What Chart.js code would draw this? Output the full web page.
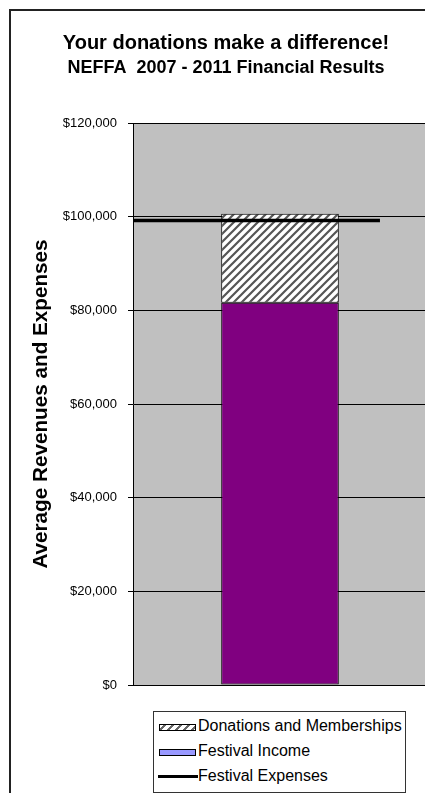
<!DOCTYPE html>
<html>
<head>
<meta charset="utf-8">
<script src="https://cdn.jsdelivr.net/npm/chart.js@4.4.0/dist/chart.umd.min.js"></script>
<style>
  html, body { margin: 0; padding: 0; background: #fff; overflow: hidden; }
  body { width: 425px; height: 793px; position: relative; font-family: 'Liberation Sans', Arial, sans-serif; }
  #frame { position: absolute; left: 9px; top: 9px; width: 520px; height: 820px; border-left: 2px solid #222; border-top: 2px solid #222; }
  #chart { position: absolute; left: 0; top: 0; }
  .title { position: absolute; left: 0; width: 452px; text-align: center; font-weight: bold; line-height: 1; color: #000; white-space: nowrap; }
  #legend { position: absolute; left: 153px; top: 711px; width: 253px; height: 82px; box-sizing: border-box; border: 1px solid #333; background: #fff; }
  .row { position: absolute; left: 44px; font-size: 16px; line-height: 1; white-space: nowrap; color: #000; }
  .sw { position: absolute; left: 5px; width: 37px; height: 7px; box-sizing: border-box; border: 1px solid #000; }
  .hatch { background: repeating-linear-gradient(135deg, #fff 0 2.5px, #666 2.5px 4.5px, #fff 4.5px 5.6px); }
  .income { background: #9999ff; }
  .ln { position: absolute; left: 4px; width: 40px; height: 3px; background: #000; }
</style>
</head>
<body>
<div id="frame"></div>
<canvas id="chart" width="450" height="793"></canvas>
<div class="title" style="top:32px;font-size:20px;">Your donations make a difference!</div>
<div class="title" style="top:58px;font-size:18px;">NEFFA&nbsp; 2007 - 2011 Financial Results</div>
<div id="legend">
  <div class="sw hatch" style="top:12px;"></div>
  <div class="row" style="top:6px;">Donations and Memberships</div>
  <div class="sw income" style="top:37px;"></div>
  <div class="row" style="top:31px;">Festival Income</div>
  <div class="ln" style="top:63px;"></div>
  <div class="row" style="top:56px;">Festival Expenses</div>
</div>
<script>
// data
var categories = [''];
var festivalIncome = [81600];
var donations = [19000];
var festivalExpenses = [99200, 99200];
var expenseSpan = [0, 0.84];
var yTickLabels = ['$0', '$20,000', '$40,000', '$60,000', '$80,000', '$100,000', '$120,000'];

// diagonal hatch for the donations block
function hatchPattern(ctx) {
  var tile = document.createElement('canvas');
  tile.width = 8;
  tile.height = 8;
  var t = tile.getContext('2d');
  t.fillStyle = '#fff';
  t.fillRect(0, 0, 8, 8);
  t.strokeStyle = '#555';
  t.lineWidth = 2.2;
  t.beginPath();
  t.moveTo(0, 8); t.lineTo(8, 0);
  t.moveTo(-4, 4); t.lineTo(4, -4);
  t.moveTo(4, 12); t.lineTo(12, 4);
  t.stroke();
  return ctx.createPattern(tile, 'repeat');
}

var plotBackground = {
  id: 'plotBackground',
  beforeDraw: function(chart) {
    var a = chart.chartArea;
    var c = chart.ctx;
    c.save();
    c.fillStyle = '#c0c0c0';
    c.fillRect(a.left, a.top, a.right - a.left, a.bottom - a.top);
    c.restore();
  }
};

var ctx = document.getElementById('chart').getContext('2d');

new Chart(ctx, {
  type: 'bar',
  data: {
    labels: categories,
    datasets: [
      {
        label: 'Festival Income',
        data: festivalIncome,
        backgroundColor: '#800080',
        borderColor: '#000',
        borderWidth: 1,
        borderSkipped: false,
        barPercentage: 0.4,
        categoryPercentage: 1,
        grouped: false,
        order: 1
      },
      {
        label: 'Donations and Memberships',
        data: donations,
        backgroundColor: hatchPattern(ctx),
        borderColor: '#000',
        borderWidth: 1,
        borderSkipped: false,
        barPercentage: 0.4,
        categoryPercentage: 1,
        grouped: false,
        order: 1
      },
      {
        type: 'line',
        label: 'Festival Expenses',
        xAxisID: 'x2',
        data: expenseSpan.map(function(x, i) { return { x: x, y: festivalExpenses[i] }; }),
        borderColor: '#000',
        borderWidth: 3.5,
        borderCapStyle: 'butt',
        pointRadius: 0,
        fill: false,
        order: 0
      }
    ]
  },
  options: {
    responsive: false,
    animation: false,
    devicePixelRatio: 1,
    layout: {
      padding: { left: 10, top: 123, right: 23, bottom: 108 }
    },
    plugins: {
      legend: { display: false },
      tooltip: { enabled: false }
    },
    scales: {
      x: {
        stacked: true,
        ticks: { display: false },
        grid: { display: false, drawTicks: false },
        border: { display: true, color: '#000', width: 1 }
      },
      x2: {
        type: 'linear',
        display: false,
        offset: false,
        min: 0,
        max: 1
      },
      y: {
        stacked: true,
        min: 0,
        max: 120000,
        ticks: {
          stepSize: 20000,
          padding: 11,
          color: '#000',
          font: { family: "'Liberation Sans', Arial", size: 13 },
          callback: function(value, index) { return yTickLabels[index]; }
        },
        grid: {
          color: '#000',
          lineWidth: 1,
          tickLength: 5,
          drawTicks: true
        },
        border: { display: true, color: '#000', width: 1 },
        title: {
          display: true,
          text: 'Average Revenues and Expenses',
          color: '#000',
          font: { family: "'Liberation Sans', Arial", size: 20.7, weight: 'bold' },
          padding: { top: 19, bottom: 0 }
        },
        afterFit: function(scale) { scale.width = 123; }
      }
    }
  },
  plugins: [plotBackground]
});
</script>
</body>
</html>
